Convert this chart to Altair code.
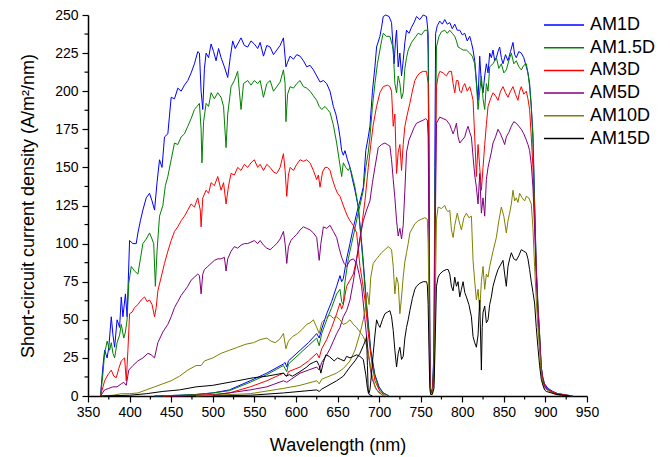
import altair as alt
import pandas as pd

SERIES = ["AM1D", "AM1.5D", "AM3D", "AM5D", "AM10D", "AM15D"]
COLORS = ["#0000ff", "#008000", "#ff0000", "#800080", "#808000", "#000000"]

X_TICKS = list(range(350, 951, 50))
Y_TICKS = list(range(0, 251, 25))
X_MINOR = list(range(375, 951, 50))
Y_MINOR = [12.5 + 25 * i for i in range(10)]

# ---- top (wide-gap) cell curves: (wavelength nm, current density) ----
AM1D_TOP = [(365,0),(368,20),(370,30),(373,25),(375,32),(378,52),(380,40),(382,32),(385,50),(388,45),(390,65),(392,52),(395,67),(397,52),(400,102),(404,100),(408,100),(410,107),(413,115),(416,122),(420,130),(424,133),(427,128),(430,122),(433,140),(436,155),(439,150),(442,170),(446,172),(450,196),(454,195),(458,202),(462,200),(466,204),(470,207),(474,212),(478,218),(482,226),(484,225),(486,200),(488,188),(490,215),(492,225),(495,222),(498,231),(501,226),(504,220),(507,228),(510,222),(514,216),(518,209),(521,222),(524,233),(527,228),(530,231),(534,235),(538,230),(542,229),(546,233),(550,231),(554,228),(557,232),(561,223),(565,230),(569,229),(573,224),(577,227),(581,230),(585,235),(588,216),(590,219),(593,223),(597,221),(601,224),(605,223),(609,220),(613,216),(617,217),(621,214),(625,210),(629,206),(633,207),(637,205),(641,200),(645,190),(648,185),(651,177),(653,170),(655,161),(657,158),(659,161),(662,155),(665,150),(668,142),(671,135),(675,124),(680,95),(685,60),(690,30),(695,14),(700,6),(705,2),(712,0)]
AM15D_TOP_G = [(365,0),(368,15),(370,28),(373,36),(376,30),(378,35),(380,28),(382,25),(385,35),(388,40),(390,47),(393,38),(395,42),(397,50),(399,74),(402,85),(406,82),(410,80),(413,90),(416,100),(420,103),(424,107),(427,103),(429,100),(431,72),(433,95),(436,118),(440,125),(443,138),(446,144),(450,155),(454,166),(458,165),(462,170),(466,172),(470,177),(474,182),(478,188),(481,190),(484,192),(486,175),(487,153),(489,180),(492,192),(495,190),(498,199),(502,195),(506,199),(510,196),(513,190),(516,163),(518,185),(522,203),(526,207),(530,213),(532,200),(534,188),(537,205),(542,207),(546,204),(550,207),(554,205),(557,207),(561,196),(565,205),(569,207),(573,200),(577,203),(581,206),(585,214),(587,205),(588,180),(590,198),(593,203),(597,202),(601,205),(605,207),(609,203),(613,202),(617,200),(621,197),(625,194),(628,190),(631,188),(635,190),(638,188),(641,186),(645,178),(649,166),(652,155),(655,144),(657,153),(660,150),(663,148),(665,150),(668,144),(671,137),(675,124),(680,92),(685,58),(690,28),(695,13),(700,5),(705,2),(712,0)]
AM3D_TOP = [(365,0),(368,6),(370,10),(374,14),(378,17),(381,13),(384,12),(387,18),(390,23),(394,25),(396,10),(398,30),(400,54),(403,55),(406,58),(410,60),(414,63),(418,65),(421,62),(424,63),(427,60),(430,52),(432,58),(434,69),(438,78),(442,87),(446,95),(450,102),(454,108),(458,111),(462,115),(466,118),(470,122),(474,126),(478,124),(482,130),(485,122),(486,111),(488,130),(492,135),(495,133),(498,140),(502,138),(506,144),(510,135),(513,140),(516,126),(519,138),(522,146),(526,145),(530,150),(534,148),(538,152),(542,150),(546,153),(550,155),(554,150),(557,152),(561,148),(565,152),(569,150),(573,147),(577,146),(581,150),(585,159),(587,148),(589,131),(591,145),(593,150),(597,148),(601,152),(605,155),(609,154),(613,155),(617,153),(621,148),(625,142),(627,145),(629,137),(632,147),(635,150),(638,150),(641,148),(644,142),(647,137),(650,133),(653,131),(655,128),(659,122),(662,118),(665,115),(669,112),(673,107),(677,85),(680,75),(683,63),(687,41),(691,23),(695,10),(701,3),(708,0)]
AM5D_TOP = [(365,0),(370,4),(375,5),(380,6),(385,6),(390,8),(393,9),(396,7),(399,17),(404,20),(410,23),(416,25),(422,28),(426,27),(430,25),(434,35),(440,42),(446,47),(450,52),(454,58),(458,62),(462,66),(466,69),(470,72),(474,76),(478,78),(482,80),(484,79),(486,67),(488,80),(490,83),(494,85),(498,87),(502,89),(506,90),(510,90),(514,91),(516,82),(518,90),(522,95),(526,98),(530,97),(534,99),(538,100),(542,100),(546,101),(550,102),(554,100),(557,102),(561,99),(565,97),(569,96),(573,98),(577,100),(581,103),(585,108),(587,100),(589,87),(591,98),(594,102),(597,104),(601,106),(605,109),(609,111),(613,110),(617,109),(621,107),(625,104),(628,89),(630,100),(633,111),(637,110),(641,112),(645,108),(649,104),(652,97),(655,91),(658,87),(661,85),(665,89),(669,90),(673,87),(676,80),(679,72),(683,50),(687,28),(691,12),(697,4),(705,0)]
AM10D_TOP = [(365,0),(380,0.5),(390,1.5),(400,1.5),(410,2),(420,4),(430,6),(440,8),(450,10),(460,13),(470,17),(480,20),(486,20),(490,23),(500,25),(510,28),(520,30),(530,32),(540,34),(549,35),(557,37),(565,38),(570,36),(575,35),(580,37),(585,41),(588,31),(591,36),(596,39),(602,41),(608,44),(613,47),(617,48),(621,50),(625,45),(628,41),(631,48),(637,52),(641,53),(645,51),(649,52),(653,50),(657,47),(661,48),(665,50),(669,47),(673,45),(677,42),(681,39),(684,35),(687,28),(691,15),(695,6),(700,2),(706,0)]
AM15D_TOP = [(365,0),(400,0.5),(420,1.5),(440,3),(460,4),(480,6),(500,7),(510,8),(530,10),(549,12),(565,13),(575,14),(585,15),(588,13),(592,14),(596,13),(605,16),(613,19),(617,21),(621,22),(625,23),(628,20),(630,15),(633,22),(636,27),(640,26),(646,23),(650,25),(654,24),(658,23),(661,26),(665,25),(669,26),(673,27),(677,26),(681,24),(684,14),(686,5),(688,1),(692,0)]

# ---- bottom (narrow-gap) cell curves ----
AM1D_BOT = [(430,0),(460,0.5),(480,1),(500,2),(520,4),(545,10),(565,15),(585,21),(587,22),(589,19),(591,23),(605,30),(615,35),(625,41),(628,38),(631,44),(637,54),(643,62),(649,72),(653,79),(655,75),(657,77),(661,90),(665,100),(668,108),(671,115),(674,122),(677,128),(681,137),(684,161),(687,170),(689,177),(692,200),(695,216),(697,229),(701,236),(703,242),(705,249),(708,250),(712,249),(715,245),(718,218),(720,235),(721,240),(723,216),(725,225),(727,210),(729,220),(731,232),(733,240),(736,238),(739,242),(742,245),(745,249),(749,247),(753,250),(757,249),(759,238),(760,170),(761,40),(762,5),(764,2),(766,30),(767,150),(768,238),(770,243),(773,246),(776,244),(779,247),(782,244),(785,245),(788,241),(791,244),(794,240),(797,240),(800,237),(803,238),(806,233),(809,236),(811,232),(813,227),(815,220),(817,207),(819,194),(821,223),(823,205),(825,199),(827,210),(829,218),(831,212),(833,225),(835,222),(837,227),(839,220),(841,222),(843,226),(845,229),(847,222),(849,218),(852,224),(855,220),(858,226),(861,232),(863,224),(865,222),(868,226),(871,225),(874,222),(877,216),(879,212),(881,205),(883,190),(885,172),(887,128),(889,85),(891,60),(893,41),(895,19),(897,12),(899,8),(903,5),(909,3),(915,1.5),(921,1),(933,0)]
AM15D_BOT_G = [(430,0),(460,0.5),(480,1),(500,2),(520,3.5),(545,9),(565,14),(585,20),(587,18),(589,16),(591,21),(605,28),(615,33),(625,38),(628,33),(631,41),(637,50),(643,58),(649,67),(653,70),(655,62),(657,60),(659,75),(663,90),(667,100),(671,110),(674,118),(677,125),(681,135),(684,150),(687,160),(689,170),(692,190),(695,205),(698,218),(701,227),(703,233),(705,238),(709,236),(713,236),(716,230),(717,227),(719,205),(721,199),(723,210),(725,205),(727,195),(729,199),(731,215),(733,222),(735,227),(739,232),(743,235),(747,238),(751,237),(755,240),(758,240),(759,225),(760,150),(761,30),(762,4),(764,2),(766,25),(767,120),(769,229),(772,236),(775,239),(779,240),(782,238),(785,240),(788,238),(791,236),(793,233),(795,229),(798,228),(801,227),(805,227),(809,225),(812,223),(815,218),(817,205),(819,188),(821,200),(823,210),(825,195),(827,188),(829,205),(831,200),(833,216),(837,218),(841,222),(844,215),(847,218),(850,212),(853,214),(856,220),(859,225),(862,218),(865,220),(868,216),(871,214),(874,217),(877,218),(879,212),(881,203),(883,190),(885,168),(887,125),(889,83),(891,58),(893,40),(895,19),(897,11),(899,7),(903,4),(909,2.5),(915,1.5),(921,1),(933,0)]
AM3D_BOT = [(440,0),(480,0.5),(500,1),(520,2),(545,6),(565,10),(585,15),(587,14),(589,13),(591,16),(605,19),(615,23),(625,28),(628,25),(631,31),(637,37),(643,45),(649,54),(653,61),(655,57),(657,60),(661,72),(665,76),(669,80),(673,90),(677,102),(680,115),(683,128),(687,150),(690,165),(693,178),(697,190),(701,199),(705,203),(710,204),(713,203),(715,200),(717,177),(719,185),(721,146),(723,160),(725,165),(727,148),(729,165),(731,177),(734,185),(737,192),(740,200),(743,207),(746,210),(749,212),(753,213),(757,213),(759,205),(760,140),(761,25),(762,3),(764,2),(766,20),(767,100),(769,203),(771,210),(773,213),(777,212),(781,210),(784,213),(787,213),(789,205),(791,199),(793,207),(795,207),(797,200),(799,199),(801,203),(803,205),(806,200),(809,203),(811,199),(813,194),(815,170),(817,144),(819,165),(821,150),(823,135),(825,150),(827,165),(829,178),(831,190),(834,195),(837,199),(840,197),(843,194),(846,200),(849,203),(852,199),(855,196),(858,200),(861,203),(864,198),(867,194),(869,200),(871,203),(874,198),(877,200),(879,195),(881,188),(883,170),(885,150),(887,118),(889,82),(891,57),(893,38),(895,18),(897,11),(899,7),(903,4.5),(909,2.5),(915,1.5),(921,1),(930,0)]
AM5D_BOT = [(450,0),(500,0.5),(545,4),(565,6),(585,10),(589,9),(605,15),(615,17),(625,19),(628,17),(631,22),(637,27),(641,31),(645,36),(649,41),(653,45),(657,52),(661,56),(665,63),(669,75),(673,90),(677,104),(681,115),(685,122),(689,128),(692,140),(695,150),(699,163),(703,165),(707,166),(710,165),(713,164),(715,155),(717,142),(719,130),(721,115),(723,105),(725,110),(727,103),(729,112),(731,135),(733,160),(736,168),(739,172),(742,176),(745,179),(749,180),(753,181),(756,182),(758,181),(759,170),(760,110),(761,20),(762,3),(764,2),(766,15),(767,80),(769,179),(771,181),(773,183),(777,182),(781,181),(785,178),(787,175),(789,172),(791,175),(793,179),(795,170),(797,166),(800,168),(803,170),(805,174),(807,177),(809,173),(811,170),(813,157),(815,145),(817,137),(819,126),(821,146),(823,120),(825,130),(827,118),(829,142),(831,150),(833,155),(835,160),(837,166),(840,170),(843,175),(846,172),(849,168),(851,165),(853,170),(856,173),(859,177),(862,180),(865,179),(868,177),(871,175),(874,172),(877,168),(879,165),(881,161),(883,152),(885,137),(887,110),(889,78),(891,54),(893,36),(895,17),(897,10),(899,6),(903,4),(909,2),(915,1),(925,0)]
AM10D_BOT = [(480,0),(545,1.5),(585,5),(605,7),(625,10),(628,8),(631,11),(649,15),(657,18),(665,23),(671,30),(677,41),(681,50),(684,60),(686,68),(688,60),(690,78),(693,87),(697,90),(700,92),(703,94),(707,96),(711,98),(715,96),(717,85),(719,67),(721,78),(723,74),(725,54),(727,65),(729,78),(731,88),(733,94),(735,100),(737,107),(740,110),(743,113),(747,115),(751,116),(755,117),(758,116),(759,100),(760,60),(761,10),(762,2),(764,1.5),(766,10),(767,40),(769,116),(771,124),(775,123),(779,125),(781,122),(783,121),(785,122),(787,109),(789,104),(791,112),(794,120),(796,115),(799,109),(802,117),(805,120),(808,117),(811,118),(813,89),(815,75),(817,63),(819,70),(821,56),(823,75),(825,85),(827,70),(829,80),(831,78),(833,85),(837,95),(841,104),(844,115),(847,124),(850,118),(853,107),(855,115),(857,120),(859,126),(861,135),(863,128),(865,130),(867,127),(869,133),(872,130),(875,128),(877,131),(880,130),(883,126),(885,110),(887,85),(889,63),(891,45),(893,30),(895,15),(897,8),(899,5),(905,3),(912,1),(920,0)]
AM15D_BOT = [(500,0),(545,0.5),(585,2),(625,4),(628,3),(631,4.5),(649,10),(657,13),(665,19),(671,23),(677,28),(681,33),(684,37),(685,39),(686,20),(687,2),(688,2),(689,4),(691,15),(693,28),(695,40),(697,50),(699,47),(701,45),(704,50),(707,54),(710,55),(713,56),(715,52),(717,43),(719,30),(721,19),(723,28),(725,32),(727,24),(729,26),(731,38),(733,45),(735,50),(737,56),(740,64),(743,70),(745,72),(749,74),(753,75),(757,75),(758,73),(759,60),(760,30),(761,5),(762,1),(764,1),(766,5),(767,25),(769,72),(771,78),(773,80),(777,82),(781,83),(783,83),(785,80),(787,72),(789,69),(791,78),(793,72),(795,75),(797,65),(799,70),(801,75),(803,68),(805,65),(808,60),(811,52),(813,39),(815,35),(817,32),(819,40),(821,63),(822,40),(823,17),(824,45),(825,55),(827,59),(829,48),(831,50),(833,60),(835,65),(837,72),(840,78),(843,83),(846,86),(849,89),(851,80),(853,72),(855,85),(857,90),(859,94),(862,90),(865,89),(868,92),(871,96),(874,95),(877,94),(879,90),(881,83),(883,75),(885,68),(887,61),(889,45),(891,32),(893,20),(895,11),(897,7),(899,4),(901,3),(907,2),(914,1),(921,0.5),(930,0)]

CURVES = [
    ("AM1D", "top", AM1D_TOP), ("AM1D", "bottom", AM1D_BOT),
    ("AM1.5D", "top", AM15D_TOP_G), ("AM1.5D", "bottom", AM15D_BOT_G),
    ("AM3D", "top", AM3D_TOP), ("AM3D", "bottom", AM3D_BOT),
    ("AM5D", "top", AM5D_TOP), ("AM5D", "bottom", AM5D_BOT),
    ("AM10D", "top", AM10D_TOP), ("AM10D", "bottom", AM10D_BOT),
    ("AM15D", "top", AM15D_TOP), ("AM15D", "bottom", AM15D_BOT),
]

rows = []
for s, cell, pts in CURVES:
    for i, (nm, v) in enumerate(pts):
        rows.append({"series": s, "cell": s + "-" + cell, "idx": i, "nm": nm, "val": v})
df = pd.DataFrame(rows)

FONT = "Liberation Sans"
W, H = 499, 381

xscale = alt.Scale(domain=[350, 950], nice=False, zero=False)
yscale = alt.Scale(domain=[0, 250], nice=False, zero=True)

XAXIS = alt.Axis(values=X_TICKS, title="Wavelength (nm)", grid=False,
                 labelOverlap=False, labelFlush=False, tickCount=13,
                 tickSize=6, labelPadding=3, titleY=54, titleBaseline="alphabetic")
YAXIS = alt.Axis(values=Y_TICKS, title="Short-circuit current density (A/m²/nm)",
                 grid=False, tickSize=6, labelPadding=4, tickCount=11,
                 labelOverlap=False, labelFlush=False,
                 titleX=-55, titleY=H / 2, titleBaseline="alphabetic")

lines = alt.Chart(df).mark_line(strokeWidth=1).encode(
    x=alt.X("nm:Q", scale=xscale, axis=XAXIS),
    y=alt.Y("val:Q", scale=yscale, axis=YAXIS),
    color=alt.Color("series:N", sort=SERIES,
                    scale=alt.Scale(domain=SERIES, range=COLORS),
                    legend=alt.Legend(title=None, orient="none", legendX=455, legendY=0,
                                      symbolType="stroke", symbolSize=1600,
                                      symbolStrokeWidth=1.5, labelFontSize=18,
                                      labelFont=FONT, labelOffset=5, rowPadding=2.7,
                                      clipHeight=20, padding=0, labelColor="#000")),
    detail="cell:N",
    order="idx:Q",
)

xminor = alt.Chart(pd.DataFrame({"nm": X_MINOR})).mark_rule(color="#000", strokeWidth=1.2).encode(
    x=alt.X("nm:Q", scale=xscale, axis=XAXIS), y=alt.value(H), y2=alt.value(H + 3.5))
yminor = alt.Chart(pd.DataFrame({"val": Y_MINOR})).mark_rule(color="#000", strokeWidth=1.2).encode(
    y=alt.Y("val:Q", scale=yscale, axis=YAXIS), x=alt.value(0), x2=alt.value(-3.5))

chart = alt.layer(lines, xminor, yminor).properties(
    width=W, height=H,
    autosize=alt.AutoSizeParams(type="none"),
    padding={"left": 88, "top": 15, "right": 83, "bottom": 61},
).configure_view(stroke=None).configure_axis(
    labelFont=FONT, titleFont=FONT, labelFontSize=14, titleFontSize=18,
    labelColor="#000", titleColor="#000", titleFontWeight="normal",
    domainColor="#000", domainWidth=1.5, tickColor="#000", tickWidth=1.2,
    labelOverlap=False,
)

chart.save("out.html", embed_options={"renderer": "svg", "actions": False})
